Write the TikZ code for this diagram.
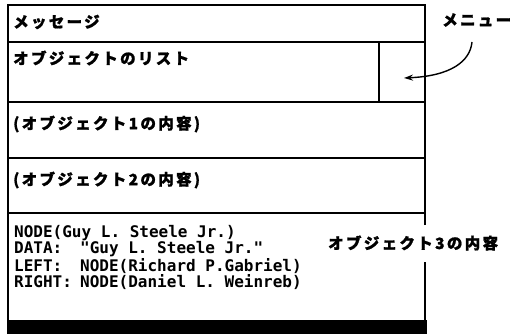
\documentclass[tikz,border=0pt]{standalone}
\usepackage{fontspec}
\newfontfamily\jp{Noto Sans CJK JP}[LetterSpace=15,FakeBold=1.2]
\newfontfamily\code{DejaVu Sans Mono}
\usetikzlibrary{arrows.meta}
\begin{document}
\begin{tikzpicture}[x=1pt,y=-1pt,
  frame/.style={line width=1.8pt},
  jlabel/.style={anchor=west,inner sep=0pt,font=\jp\bfseries\fontsize{15.5}{16}\selectfont},
  codeline/.style={anchor=west,inner sep=0pt,font=\code\bfseries\fontsize{16}{16}\selectfont},
  call/.style={line width=1.4pt,-{Stealth[length=9pt,width=6pt]}}]
\useasboundingbox (0,0) rectangle (513,334);
% frame
\draw[frame] (425,225) -- (425,5) -- (8,5) -- (8,320);
\draw[frame] (425,262) -- (425,320);
\draw[frame] (8,42) -- (425,42);
\draw[frame] (8,102) -- (425,102);
\draw[frame] (8,158) -- (425,158);
\draw[frame] (8,213) -- (425,213);
\draw[frame] (379,42) -- (379,102);
\fill (7.1,320) rectangle (427,334);
% texts
\node[jlabel] (msg) at (13,22) {メッセージ};
\node[jlabel] (list) at (13,58) {オブジェクトのリスト};
\node[jlabel] (obj1) at (13,124) {(オブジェクト1の内容)};
\node[jlabel] (obj2) at (13,180) {(オブジェクト2の内容)};
\node[jlabel] (obj3) at (328,243) {オブジェクト3の内容};
\node[jlabel] (menu) at (442,20) {メニュー};
\node[codeline] (l1) at (14,233) {NODE(Guy L. Steele Jr.)};
\node[codeline] (l2) at (14,249) {\makebox[66pt][l]{DATA:}"Guy L. Steele Jr."};
\node[codeline] (l3) at (14,266) {\makebox[66pt][l]{LEFT:}NODE(Richard P.Gabriel)};
\node[codeline] (l4) at (14,282) {\makebox[66pt][l]{RIGHT:}NODE(Daniel L. Weinreb)};
% arrow to menu cell
\coordinate (cell) at (404,78);
\coordinate (start) at (472,42);
\draw[call] (start) .. controls (470,62) and (450,76) .. (cell);
\end{tikzpicture}
\end{document}
